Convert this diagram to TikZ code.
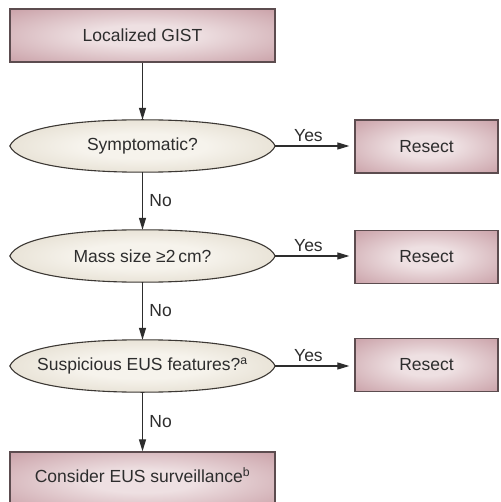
\documentclass[tikz,border=0pt]{standalone}
\usepackage{fontspec}
\setmainfont{Liberation Sans}
\usetikzlibrary{arrows.meta,calc,backgrounds}
\definecolor{boxin}{RGB}{238,224,226}
\definecolor{boxout}{RGB}{193,146,154}
\definecolor{ellin}{RGB}{246,243,236}
\definecolor{ellout}{RGB}{214,205,186}
\definecolor{boxedge}{RGB}{92,76,79}
\definecolor{elledge}{RGB}{60,56,52}
\definecolor{ink}{RGB}{45,45,45}
\pgfdeclareradialshading{softbox}{\pgfpoint{0bp}{0bp}}{color(0bp)=(boxin); color(10bp)=(boxin); color(42bp)=(boxout); color(50bp)=(boxout)}
\pgfdeclareradialshading{softell}{\pgfpoint{0bp}{0bp}}{color(0bp)=(ellin); color(12bp)=(ellin); color(44bp)=(ellout); color(50bp)=(ellout)}
\tikzset{
  boxnode/.style={rectangle, draw=boxedge, line width=1.3pt, shading=softbox,
    font=\fontsize{17.5}{20}\selectfont, text=ink, inner sep=0pt},
  decnode/.style={rectangle, inner sep=0pt, minimum width=265pt, minimum height=52pt,
    font=\fontsize{17.5}{20}\selectfont, text=ink},
  lensshade/.style={shading=softell, draw=elledge, line width=1.1pt},
  arr/.style={draw=ink, line width=1.2pt, -{Triangle[length=12pt,width=7pt]}},
  lbl/.style={font=\fontsize{17.5}{20}\selectfont, text=ink}
}
\newcommand\lensat[1]{%
  \shade[lensshade] (#1.west)
    .. controls ($(#1.west)+(8,-18)$) and ($(#1.north)+(-70,0)$) .. (#1.north)
    .. controls ($(#1.north)+(70,0)$) and ($(#1.east)+(-8,-18)$) .. (#1.east)
    .. controls ($(#1.east)+(-8,18)$) and ($(#1.south)+(70,0)$) .. (#1.south)
    .. controls ($(#1.south)+(-70,0)$) and ($(#1.west)+(8,18)$) .. (#1.west) -- cycle;}
\begin{document}
\begin{tikzpicture}[x=1pt,y=-1pt]
\useasboundingbox (0,0) rectangle (500,502);
% main column
\node[boxnode, minimum width=265pt, minimum height=53pt] (gist) at (142.5,35.5) {Localized GIST};
\node[decnode] (e1) at (142.5,146) {Symptomatic?};
\node[decnode] (e2) at (142.5,256) {Mass size ≥2\,cm?};
\node[decnode] (e3) at (142.5,366) {Suspicious EUS features?\textsuperscript{a}};
\node[boxnode, minimum width=265pt, minimum height=58pt] (surv) at (142.5,481) {};
\node[lbl] (survtext) at ($(surv.center)+(0,-6)$) {Consider EUS surveillance\textsuperscript{b}};
% resect boxes
\node[boxnode, minimum width=143pt, minimum height=53pt] (r1) at (426.5,146.5) {Resect};
\node[boxnode, minimum width=143pt, minimum height=53pt] (r2) at (426.5,257) {Resect};
\node[boxnode, minimum width=143pt, minimum height=53pt] (r3) at (426.5,365) {Resect};
\begin{pgfonlayer}{background}
\fill[white] (0,0) rectangle (500,502);
\lensat{e1}
\lensat{e2}
\lensat{e3}
\end{pgfonlayer}
% vertical arrows
\draw[arr] (gist.south) -- (e1.north);
\draw[arr] (e1.south) -- node[lbl, right, xshift=3pt]{No} (e2.north);
\draw[arr] (e2.south) -- node[lbl, right, xshift=3pt]{No} (e3.north);
\draw[arr] (e3.south) -- node[lbl, right, xshift=3pt]{No} (surv.north);
% horizontal arrows
\draw[arr, shorten >=5pt] (e1.east) -- node[lbl, above, pos=0.42]{Yes} (e1.east -| r1.west);
\draw[arr, shorten >=5pt] (e2.east) -- node[lbl, above, pos=0.42]{Yes} (e2.east -| r2.west);
\draw[arr, shorten >=5pt] (e3.east) -- node[lbl, above, pos=0.42]{Yes} (e3.east -| r3.west);
\end{tikzpicture}
\end{document}
